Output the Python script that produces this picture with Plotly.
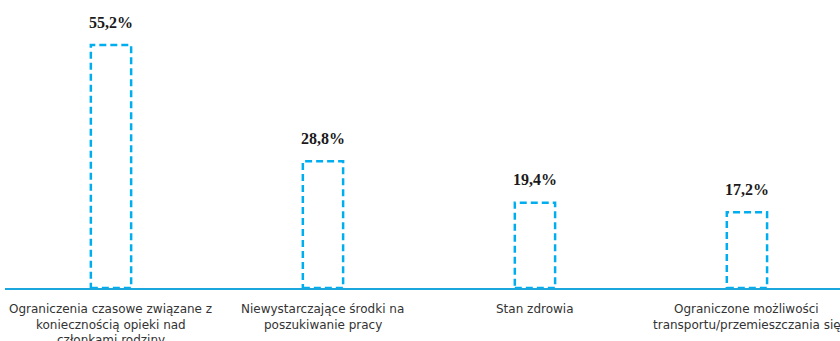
import plotly.graph_objects as go

categories = [
    "Ograniczenia czasowe związane z<br>koniecznością opieki nad<br>członkami rodziny",
    "Niewystarczające środki na<br>poszukiwanie pracy",
    "Stan zdrowia",
    "Ograniczone możliwości<br>transportu/przemieszczania się",
]
values = [55.2, 28.8, 19.4, 17.2]
value_labels = ["55,2%", "28,8%", "19,4%", "17,2%"]

BLUE = "#00AEEF"
AXIS_BLUE = "#1BA6DE"
half_w = 0.095

fig = go.Figure()
# invisible trace to set up axis
fig.add_trace(go.Scatter(x=list(range(len(values))), y=values, mode="markers",
                         marker=dict(opacity=0), hoverinfo="skip", showlegend=False))

for i, v in enumerate(values):
    fig.add_shape(type="rect", xref="x", yref="y",
                  x0=i - half_w, x1=i + half_w, y0=0, y1=v,
                  line=dict(color=BLUE, width=2.5, dash="7px,4px"),
                  fillcolor="rgba(0,0,0,0)")
    fig.add_annotation(x=i, y=v, xref="x", yref="y", text="<b>" + value_labels[i] + "</b>",
                       showarrow=False, yanchor="middle", yshift=23,
                       font=dict(family="Liberation Serif", size=16, color="#1a1a1a"))
    # category labels, one annotation per line
    for k, line in enumerate(categories[i].split("<br>")):
        fig.add_annotation(x=i, y=0, xref="x", yref="y", text=line,
                           showarrow=False, yanchor="middle", xanchor="center",
                           yshift=-(21 + k * 15.5),
                           font=dict(family="DejaVu Sans", size=12, color="#333333"))

fig.update_layout(
    width=840, height=341,
    margin=dict(l=5, r=0, t=0, b=53),
    paper_bgcolor="white", plot_bgcolor="white",
    showlegend=False,
    xaxis=dict(range=[-0.5, 3.439], showticklabels=False,
               showgrid=False, zeroline=False, showline=True, linecolor=AXIS_BLUE,
               linewidth=1.5, ticks=""),
    yaxis=dict(range=[0, 65.45], visible=False, showgrid=False, zeroline=False),
)

fig.write_html("out.html", config={"displayModeBar": False},
               post_script="document.body.style.margin='0';document.body.style.overflow='hidden';")
